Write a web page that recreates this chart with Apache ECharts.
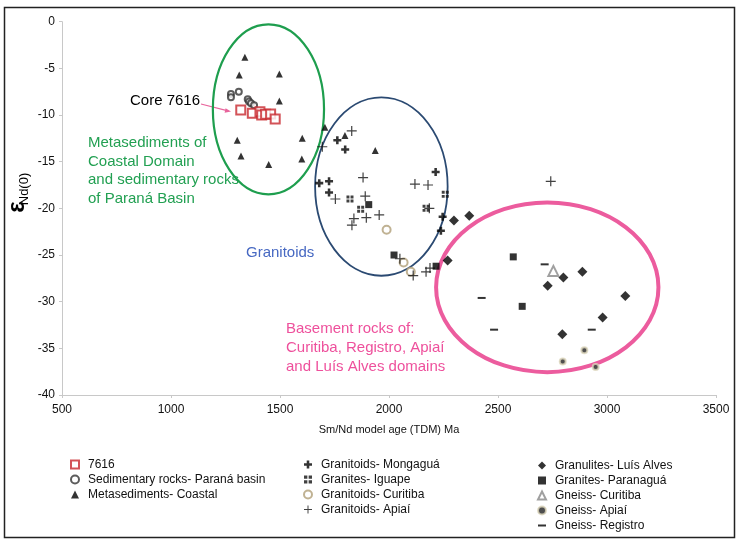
<!DOCTYPE html>
<html>
<head>
<meta charset="utf-8">
<script src="https://cdn.jsdelivr.net/npm/echarts@6/dist/echarts.min.js"></script>
<style>
  html, body { margin: 0; padding: 0; background: #fff; }
  #chart { width: 743px; height: 548px; }
</style>
</head>
<body>
<div id="chart"></div>
<script>
// Nd model age (TDM, Ma) vs epsilon Nd(0).
const FONT = "'Liberation Sans', Arial, sans-serif";
const X_TICKS = [500, 3500, 500];   // min, max, step
const Y_TICKS = [-40, 0, 5];

const core7616 = [[1320, -9.46], [1373, -9.82], [1408, -9.65], [1416, -10.0], [1434, -9.92], [1457, -9.89], [1478, -10.43]];
const sedParana = [[1275, -7.75], [1275, -8.1], [1311, -7.5], [1352, -8.3], [1358, -8.55], [1367, -8.75], [1381, -8.95]];
const metaCoastal = [[1339, -3.8], [1313, -5.7], [1497, -5.6], [1497, -8.5], [1304, -12.7], [1602, -12.5], [1321, -14.4],
  [1448, -15.3], [1600, -14.7], [1706, -11.3], [1798, -12.2], [1937, -13.8]];
const granMongagua = [[1763, -12.7], [1799, -13.7], [1680, -17.3], [1725, -17.1], [1725, -18.3], [2214, -16.1], [2246, -20.9], [2238, -22.4]];
const granIguape = [[1821, -19.0], [1870, -20.1], [2258, -18.5], [2170, -20.0]];
const granCuritiba = [[1989, -22.3], [2067, -25.8], [2100, -26.8]];
const granApiai = [[1829, -11.7], [1694, -13.4], [1754, -19.0], [1881, -16.7], [1891, -18.7], [1839, -21.1], [1896, -21.0],
  [1955, -20.7], [1830, -21.8], [2119, -17.4], [2179, -17.5], [2185, -20.0], [2050, -25.4], [2111, -27.2], [2170, -26.8],
  [2188, -26.4], [2742, -17.1]];
const granulLuisAlves = [[2298, -21.3], [2368, -20.8], [2269, -25.6], [2800, -27.4], [2887, -26.8], [2728, -28.3],
  [3084, -29.4], [2980, -31.7], [2795, -33.5]];
const granParanagua = [[1907, -19.6], [2023, -25.0], [2216, -26.2], [2570, -25.2], [2611, -30.5]];
const gneissCuritiba = [[2754, -26.7]];
const gneissApiai = [[2896, -35.2], [2797, -36.4], [2948, -37.0]];
const gneissRegistro = [[2714, -26.0], [2425, -29.6], [2482, -33.0], [2930, -33.0]];

// grouping ellipses: centre x, centre y, half-width (Ma), half-height (eNd)
const groupEllipses = [[1447, -9.39, 255, 9.11], [1965, -17.66, 304, 9.56], [2726, -28.46, 510, 9.09]];
const ellipseStyles = [
  { stroke: "#1e9e4e", lineWidth: 2.2 },
  { stroke: "#2b4a72", lineWidth: 1.8 },
  { stroke: "#ec5c9e", lineWidth: 4 },
];

const PLUS_THIN = "path://M4.4,0H5.6V4.4H10V5.6H5.6V10H4.4V5.6H0V4.4H4.4Z";
const PLUS_BOLD = "path://M3.4,0H6.6V3.4H10V6.6H6.6V10H3.4V6.6H0V3.4H3.4Z";
const GRID4 = "path://M0,0H4.2V4.2H0Z M5.8,0H10V4.2H5.8Z M0,5.8H4.2V10H0Z M5.8,5.8H10V10H5.8Z";
const DASH = "path://M0,0H10V2.5H0Z";

function scatter(name, data, symbol, size, itemStyle) {
  return { type: "scatter", name, data, symbol, symbolSize: size, itemStyle, z: 3 };
}

const series = [
  {
    type: "custom", name: "ellipses", silent: true, z: 1,
    data: groupEllipses,
    encode: { x: 0, y: 1 },
    renderItem: (params, api) => {
      const c = api.coord([api.value(0), api.value(1)]);
      const s = api.size([api.value(2), api.value(3)]);
      return {
        type: "ellipse",
        shape: { cx: c[0], cy: c[1], rx: s[0], ry: s[1] },
        style: { fill: "none", ...ellipseStyles[params.dataIndex] },
      };
    },
  },
  scatter("Sedimentary rocks- Paraná basin", sedParana, "emptyCircle", 6, { color: "#333", borderColor: "#333", borderWidth: 1.2 }),
  scatter("Metasediments- Coastal", metaCoastal, "triangle", 7, { color: "#000" }),
  scatter("7616", core7616, "emptyRect", 9, { color: "#c8282e", borderColor: "#c8282e", borderWidth: 1.3 }),
  scatter("Granitoids- Mongaguá", granMongagua, PLUS_BOLD, 8, { color: "#000" }),
  scatter("Granites- Iguape", granIguape, GRID4, 7, { color: "#111" }),
  scatter("Granitoids- Curitiba", granCuritiba, "emptyCircle", 8, { color: "#b09f78", borderColor: "#b09f78", borderWidth: 1.2 }),
  scatter("Granitoids- Apiaí", granApiai, PLUS_THIN, 10, { color: "#111" }),
  scatter("Granulites- Luís Alves", granulLuisAlves, "diamond", 10, { color: "#000" }),
  scatter("Granites- Paranaguá", granParanagua, "rect", 7, { color: "#000" }),
  scatter("Gneiss- Curitiba", gneissCuritiba, "emptyTriangle", 10, { color: "#888", borderColor: "#888", borderWidth: 1.2 }),
  scatter("Gneiss- Apiaí", gneissApiai, "circle", 6, { color: "#222", borderColor: "#dcd6bc", borderWidth: 2 }),
  scatter("Gneiss- Registro", gneissRegistro, DASH, [8, 2], { color: "#000" }),
];

function legendCol(names, left, top) {
  return {
    data: names, orient: "vertical", left, top,
    itemWidth: 8, itemHeight: 8, itemGap: 0, selectedMode: false,
    textStyle: { fontFamily: FONT, fontSize: 12, color: "#111", lineHeight: 15, padding: [0, 0, 0, 4] },
  };
}

const chart = echarts.init(document.getElementById("chart"), null, { renderer: "canvas" });
chart.setOption({
  animation: false,
  textStyle: { fontFamily: FONT },
  grid: { left: 62, right: 27, top: 21.7, bottom: 153, containLabel: false },
  xAxis: {
    type: "value", min: X_TICKS[0], max: X_TICKS[1], interval: X_TICKS[2],
    name: "Sm/Nd model age (TDM) Ma", nameLocation: "middle", nameGap: 29,
    nameTextStyle: { fontFamily: FONT, fontSize: 11, color: "#111" },
    axisLine: { onZero: false, lineStyle: { color: "#c8c8c8" } },
    axisTick: { show: true, length: 3, lineStyle: { color: "#c8c8c8" } },
    axisLabel: { fontFamily: FONT, fontSize: 12, color: "#111", margin: 9, formatter: (v) => String(v) },
    splitLine: { show: false },
  },
  yAxis: {
    type: "value", min: Y_TICKS[0], max: Y_TICKS[1], interval: Y_TICKS[2],
    axisLine: { show: true, onZero: false, lineStyle: { color: "#c8c8c8" } },
    axisTick: { show: true, length: 3, lineStyle: { color: "#c8c8c8" } },
    axisLabel: { fontFamily: FONT, fontSize: 12, color: "#111", margin: 7 },
    splitLine: { show: false },
  },
  legend: [
    legendCol(["7616", "Sedimentary rocks- Paraná basin", "Metasediments- Coastal"], 65, 452),
    legendCol(["Granitoids- Mongaguá", "Granites- Iguape", "Granitoids- Curitiba", "Granitoids- Apiaí"], 298, 452),
    legendCol(["Granulites- Luís Alves", "Granites- Paranaguá", "Gneiss- Curitiba", "Gneiss- Apiaí", "Gneiss- Registro"], 532, 453),
  ],
  graphic: [
    { type: "rect", shape: { x: 4.5, y: 7.5, width: 730, height: 530 }, style: { fill: "none", stroke: "#222", lineWidth: 1.5 }, silent: true },
    { type: "text", rotation: Math.PI / 2, x: 17, y: 207,
      style: { text: "ε", font: `bold 24px ${FONT}`, fill: "#000", textAlign: "center", textVerticalAlign: "middle" } },
    { type: "text", rotation: Math.PI / 2, x: 24, y: 189,
      style: { text: "Nd(0)", font: `13px ${FONT}`, fill: "#000", textAlign: "center", textVerticalAlign: "middle" } },
    { type: "text", x: 130, y: 101,
      style: { text: "Core 7616", font: `15px ${FONT}`, fill: "#000", textVerticalAlign: "middle" } },
    { type: "line", shape: { x1: 201, y1: 104, x2: 226, y2: 110.3 }, style: { stroke: "#e8649c", lineWidth: 1.2 } },
    { type: "polygon", shape: { points: [[231, 111.5], [224.6, 112.8], [225.6, 108.2]] }, style: { fill: "#e8649c" } },
    { type: "text", x: 88, y: 133.7,
      style: { text: "Metasediments of\nCoastal Domain\nand sedimentary rocks\nof Paraná Basin", font: `15px ${FONT}`,
        fill: "#22a052", lineHeight: 18.5, textVerticalAlign: "top" } },
    { type: "text", x: 246, y: 253,
      style: { text: "Granitoids", font: `15px ${FONT}`, fill: "#4668c2", textVerticalAlign: "middle" } },
    { type: "text", x: 286, y: 319.5,
      style: { text: "Basement rocks of:\nCuritiba, Registro, Apiaí\nand Luís Alves domains", font: `15px ${FONT}`,
        fill: "#ee509c", lineHeight: 19, textVerticalAlign: "top" } },
  ],
  series,
});
</script>
</body>
</html>
